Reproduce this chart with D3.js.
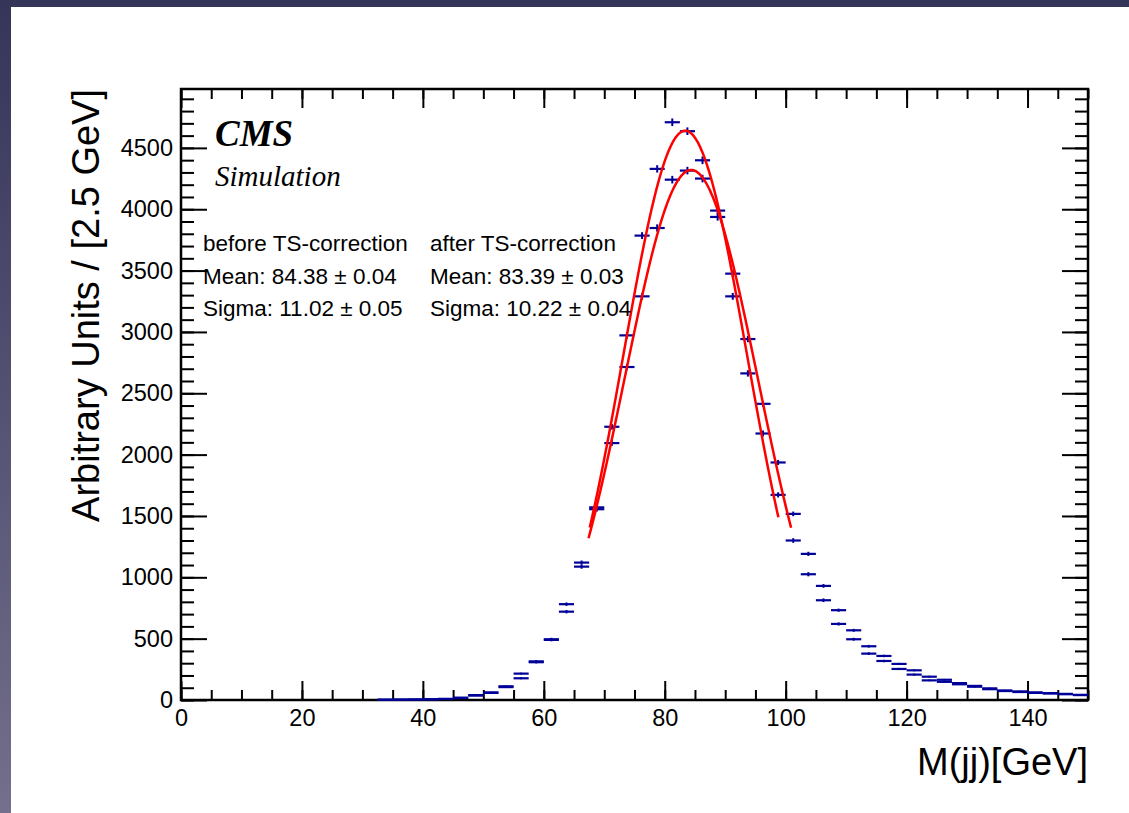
<!DOCTYPE html>
<html><head><meta charset="utf-8">
<script src="https://cdn.jsdelivr.net/npm/d3@7"></script>
<style>
html,body{margin:0;padding:0;background:#fff;}
svg{display:block;}
text{font-family:"Liberation Sans",Arial,Helvetica,sans-serif;}
</style></head>
<body>
<svg id="c" width="1129" height="813"></svg>
<script>
// ---------------- data ----------------
const binWidth = 2.5;
const firstBin = 13;            // first non-empty bin index (bins of 2.5 GeV from 0)
const before = [2,3,4,6,8,16,36,58,105,177,308,490,720,1087,1555,2094,2714,3290,3847,4241,4315,4250,3937,3475,2942,2414,1936,1517,1191,930,732,568,438,359,294,242,190,165,138,115,95,78,70,62,56,50,42];
const after  = [2,3,4,6,9,19,40,62,112,215,315,495,781,1120,1570,2227,2972,3785,4329,4709,4636,4399,3989,3290,2662,2172,1672,1300,1025,813,620,495,378,318,253,207,160,148,128,108,88,73,65,58,53,47,40];
const errs   = [1,1,1,2,2,3,4,5,6,8,10,12,14,17,20,23,26,28,30,31,31,31,30,28,26,24,21,19,17,15,13,12,11,10,9,8,7,7,6,6,5,5,5,4,4,4,4];
// Gaussian fits (before, after)
const fitMean  = [84.38, 83.39];
const fitSigma = [11.02, 10.22];
const fitAmp   = [4320, 4640];
const fitLo    = [67.4, 67.6];
const fitHi    = [100.9, 98.8];
const xMajor = [0,20,40,60,80,100,120,140];
const xMinor = d3.range(0,151,5);
const yMajor = [0,500,1000,1500,2000,2500,3000,3500,4000,4500];
const yMinor = d3.range(0,4901,100);
const legendRows = [
  ["before TS-correction","after TS-correction"],
  ["Mean: 84.38 \u00b1 0.04","Mean: 83.39 \u00b1 0.03"],
  ["Sigma: 11.02 \u00b1 0.05","Sigma: 10.22 \u00b1 0.04"]
];

// ---------------- layout ----------------
const svg = d3.select("#c");
const L = 181, R = 1088, T = 89, B = 700;
const x = d3.scaleLinear().domain([0,150]).range([L,R]);
const y = d3.scaleLinear().domain([0,4980]).range([B,T]);

// background
const defs = svg.append("defs");
const g0 = defs.append("linearGradient").attr("id","bg").attr("x1",0).attr("y1",0).attr("x2",0).attr("y2",1);
g0.append("stop").attr("offset","0%").attr("stop-color","#35355a");
g0.append("stop").attr("offset","100%").attr("stop-color","#736f8c");
svg.append("rect").attr("width",1129).attr("height",813).attr("fill","url(#bg)");
svg.append("rect").attr("x",11).attr("y",7).attr("width",1129-11).attr("height",813-7).attr("fill","#fff");

// axes
function styleAxis(g){
  g.select(".domain").remove();
  g.selectAll(".tick line").attr("stroke","#000").attr("stroke-width",2);
  g.selectAll(".tick text").attr("fill","#000").style("font-size","23.5px").style("font-family","'Liberation Sans',Arial,sans-serif");
}
svg.append("g").attr("transform",`translate(0,${B})`)
  .call(d3.axisBottom(x).tickValues(xMinor).tickSize(-10).tickFormat("")).call(styleAxis);
svg.append("g").attr("transform",`translate(0,${B})`)
  .call(d3.axisBottom(x).tickValues(xMajor).tickSize(-19).tickPadding(9).tickFormat(d3.format("d"))).call(styleAxis);
svg.append("g").attr("transform",`translate(0,${T})`)
  .call(d3.axisTop(x).tickValues(xMinor).tickSize(-10).tickFormat("")).call(styleAxis);
svg.append("g").attr("transform",`translate(0,${T})`)
  .call(d3.axisTop(x).tickValues(xMajor).tickSize(-19).tickFormat("")).call(styleAxis);
svg.append("g").attr("transform",`translate(${L},0)`)
  .call(d3.axisLeft(y).tickValues(yMinor).tickSize(-13).tickFormat("")).call(styleAxis);
svg.append("g").attr("transform",`translate(${L},0)`)
  .call(d3.axisLeft(y).tickValues(yMajor).tickSize(-26).tickPadding(8).tickFormat(d3.format("d"))).call(styleAxis);
svg.append("g").attr("transform",`translate(${R},0)`)
  .call(d3.axisRight(y).tickValues(yMinor).tickSize(-13).tickFormat("")).call(styleAxis);
svg.append("g").attr("transform",`translate(${R},0)`)
  .call(d3.axisRight(y).tickValues(yMajor).tickSize(-26).tickFormat("")).call(styleAxis);

// frame
svg.append("rect").attr("x",L).attr("y",T).attr("width",R-L).attr("height",B-T)
  .attr("fill","none").attr("stroke","#000").attr("stroke-width",2.5);

// axis titles
svg.append("text").attr("x",R).attr("y",775).attr("text-anchor","end")
  .style("font-size","38px").text("M(jj)[GeV]");
svg.append("text").attr("transform",`translate(99,${T}) rotate(-90)`).attr("text-anchor","end")
  .style("font-size","38px").text("Arbitrary Units / [2.5 GeV]");

// data points
const dataColor = "#000099";
const gp = svg.append("g");
[before, after].forEach(series => {
  series.forEach((v,i) => {
    const bin = firstBin + i;
    const lo = bin*binWidth, hi = lo+binWidth, c = lo+binWidth/2;
    gp.append("line").attr("x1",x(lo)).attr("x2",x(hi)).attr("y1",y(v)).attr("y2",y(v))
      .attr("stroke",dataColor).attr("stroke-width",2.2);
    gp.append("line").attr("x1",x(c)).attr("x2",x(c)).attr("y1",y(v-errs[i])).attr("y2",y(v+errs[i]))
      .attr("stroke",dataColor).attr("stroke-width",2);
  });
});

// fit curves
const line = d3.line().x(d=>x(d[0])).y(d=>y(d[1]));
fitMean.forEach((m,k) => {
  const pts = d3.range(fitLo[k], fitHi[k]+0.001, 0.1).map(t => [t, fitAmp[k]*Math.exp(-0.5*Math.pow((t-m)/fitSigma[k],2))]);
  svg.append("path").attr("d",line(pts)).attr("fill","none").attr("stroke","#ff0000").attr("stroke-width",2.5);
});

// CMS labels
svg.append("text").attr("x",215).attr("y",146)
  .style("font-family","'Liberation Serif','Times New Roman',serif").style("font-weight","bold").style("font-style","italic")
  .style("font-size","37px").text("CMS");
svg.append("text").attr("x",215).attr("y",186)
  .style("font-family","'Liberation Serif','Times New Roman',serif").style("font-style","italic")
  .style("font-size","29px").text("Simulation");

// legend text
const colX = [203, 430];
const rowY = [251, 284, 316];
legendRows.forEach((row,r) => row.forEach((t,cI) => {
  svg.append("text").attr("x",colX[cI]).attr("y",rowY[r]).style("font-size","22.5px").attr("fill","#000").text(t);
}));
</script>
</body></html>
